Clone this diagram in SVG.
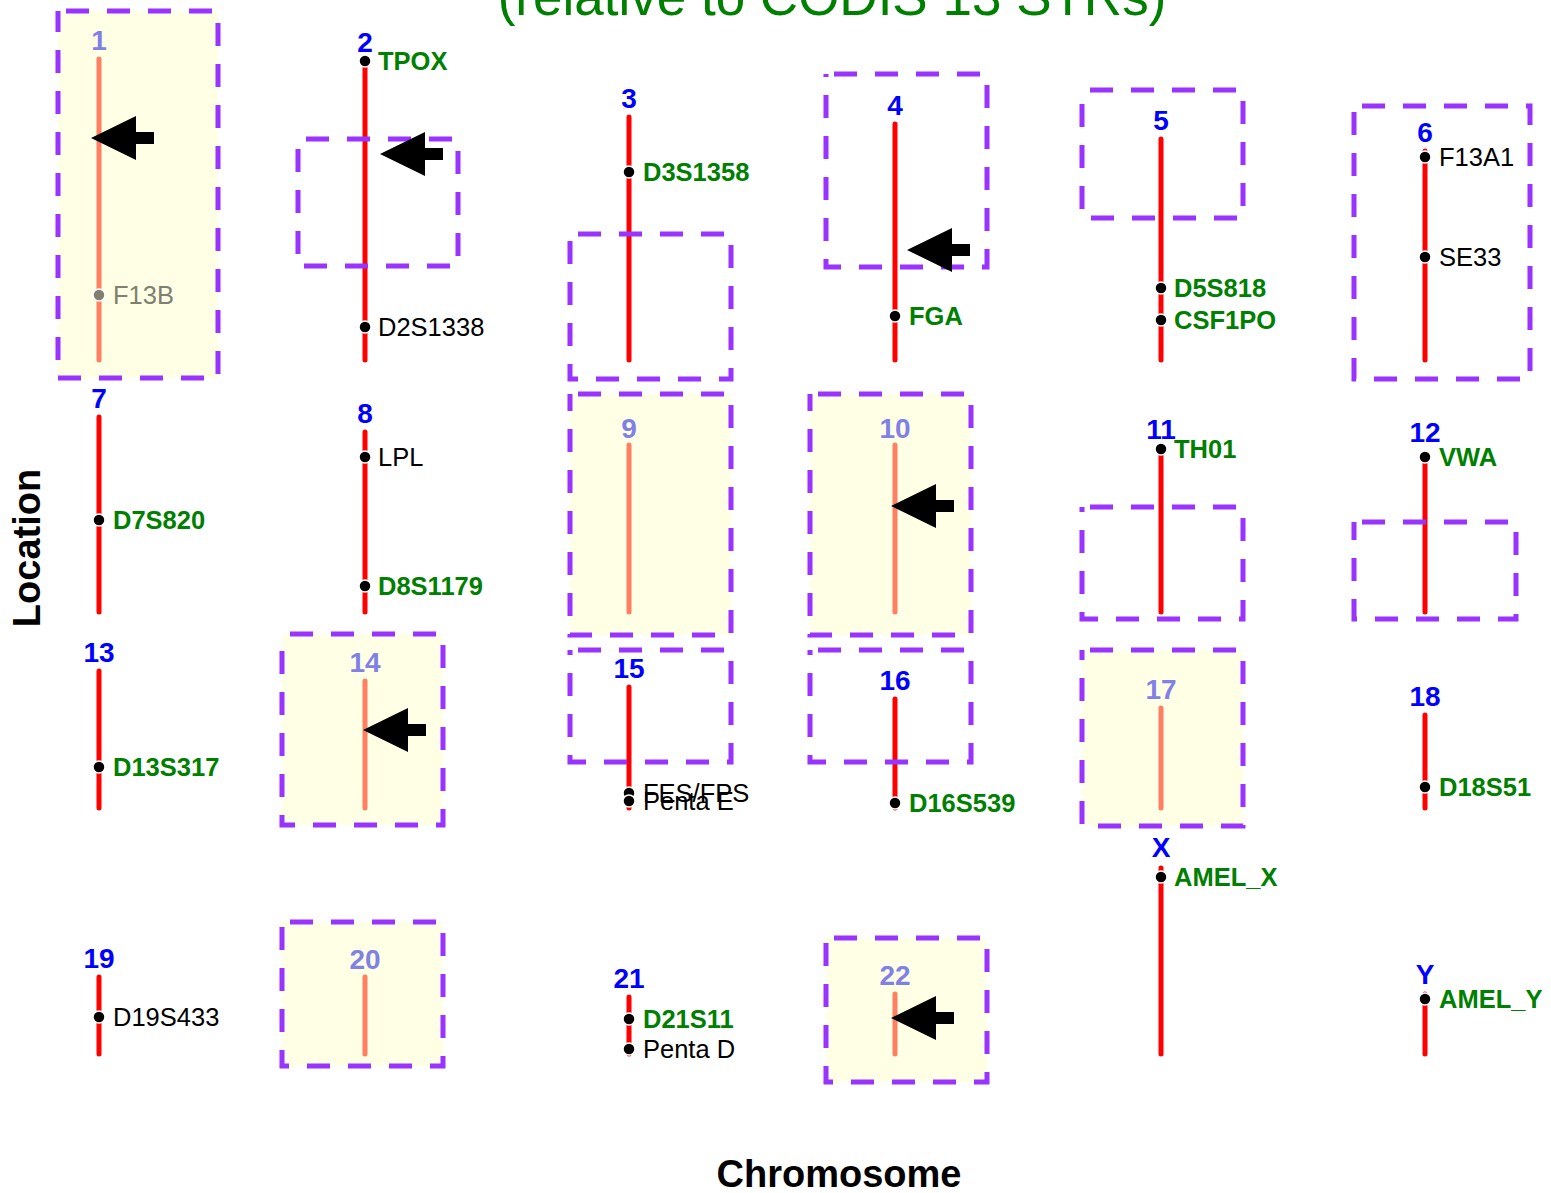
<svg xmlns="http://www.w3.org/2000/svg" width="1551" height="1193" viewBox="0 0 1551 1193">
<style>
.chr{stroke:#ff0000;stroke-width:5;stroke-linecap:round;fill:none}
.chrf{stroke:#ff7f62;stroke-width:5;stroke-linecap:round;fill:none}
.dot{fill:#000;stroke:#fff;stroke-width:1.5}
.dotf{fill:#808070;stroke:#fff;stroke-width:1.5}
.num{font-family:"Liberation Sans",Arial,sans-serif;font-weight:bold;font-size:28px;fill:#0000ff;text-anchor:middle}
.numf{font-family:"Liberation Sans",Arial,sans-serif;font-weight:bold;font-size:28px;fill:#8080e6;text-anchor:middle}
.mg{font-family:"Liberation Sans",Arial,sans-serif;font-weight:bold;font-size:25.5px;fill:#008000}
.mb{font-family:"Liberation Sans",Arial,sans-serif;font-size:25.5px;fill:#000}
.mf{font-family:"Liberation Sans",Arial,sans-serif;font-size:25.5px;fill:#808070}
.hlfill{fill:#ffffe6;stroke:none}
.hl{fill:none;stroke:#9933ff;stroke-width:5;stroke-dasharray:23 18;stroke-dashoffset:33}
.arrow{fill:#000}
.axis{font-family:"Liberation Sans",Arial,sans-serif;font-weight:bold;font-size:38px;fill:#000;text-anchor:middle}
.title{font-family:"Liberation Sans",Arial,sans-serif;font-size:53px;fill:#008000;text-anchor:middle}
</style>
<defs>
<path id="arr" d="M0,0 L45,-22 L45,-6 L63,-6 L63,6 L45,6 L45,22 Z"/>
</defs>
<rect width="1551" height="1193" fill="#fff"/>
<text class="title" x="832" y="15">(relative to CODIS 13 STRs)</text>
<text class="axis" x="839" y="1187">Chromosome</text>
<text class="axis" transform="translate(40,548) rotate(-90)">Location</text>

<g id="chr1">
<rect class="hlfill" x="58" y="11" width="160" height="367"/>
<line class="chrf" x1="99" y1="59" x2="99" y2="360"/>
<text class="numf" x="99" y="50">1</text>
<circle class="dotf" cx="99" cy="295" r="6"/><text class="mf" x="113" y="304">F13B</text>
<rect class="hl" x="58" y="11" width="160" height="367"/>
</g>
<g id="chr2">
<line class="chr" x1="365" y1="61" x2="365" y2="360"/>
<text class="num" x="365" y="52">2</text>
<circle class="dot" cx="365" cy="61" r="6"/><text class="mg" x="378" y="70">TPOX</text>
<circle class="dot" cx="365" cy="327" r="6"/><text class="mb" x="378" y="336">D2S1338</text>
<rect class="hl" x="298" y="139" width="160" height="127"/>
</g>
<g id="chr3">
<line class="chr" x1="629" y1="117" x2="629" y2="360"/>
<text class="num" x="629" y="108">3</text>
<circle class="dot" cx="629" cy="172" r="6"/><text class="mg" x="643" y="181">D3S1358</text>
<rect class="hl" x="570" y="234" width="161" height="145"/>
</g>
<g id="chr4">
<line class="chr" x1="895" y1="124" x2="895" y2="360"/>
<text class="num" x="895" y="115">4</text>
<circle class="dot" cx="895" cy="316" r="6"/><text class="mg" x="909" y="325">FGA</text>
<rect class="hl" x="826" y="74" width="161" height="193"/>
</g>
<g id="chr5">
<line class="chr" x1="1161" y1="139" x2="1161" y2="360"/>
<text class="num" x="1161" y="130">5</text>
<circle class="dot" cx="1161" cy="288" r="6"/><text class="mg" x="1174" y="297">D5S818</text>
<circle class="dot" cx="1161" cy="320" r="6"/><text class="mg" x="1174" y="329">CSF1PO</text>
<rect class="hl" x="1082" y="90" width="161" height="128"/>
</g>
<g id="chr6">
<line class="chr" x1="1425" y1="151" x2="1425" y2="360"/>
<text class="num" x="1425" y="142">6</text>
<circle class="dot" cx="1425" cy="157" r="6"/><text class="mb" x="1439" y="166">F13A1</text>
<circle class="dot" cx="1425" cy="257" r="6"/><text class="mb" x="1439" y="266">SE33</text>
<rect class="hl" x="1354" y="106" width="176" height="273"/>
</g>

<g id="chr7">
<line class="chr" x1="99" y1="417" x2="99" y2="612"/>
<text class="num" x="99" y="408">7</text>
<circle class="dot" cx="99" cy="520" r="6"/><text class="mg" x="113" y="529">D7S820</text>
</g>
<g id="chr8">
<line class="chr" x1="365" y1="432" x2="365" y2="612"/>
<text class="num" x="365" y="423">8</text>
<circle class="dot" cx="365" cy="457" r="6"/><text class="mb" x="378" y="466">LPL</text>
<circle class="dot" cx="365" cy="586" r="6"/><text class="mg" x="378" y="595">D8S1179</text>
</g>
<g id="chr9">
<rect class="hlfill" x="570" y="394" width="161" height="241"/>
<line class="chrf" x1="629" y1="445" x2="629" y2="612"/>
<text class="numf" x="629" y="438">9</text>
<rect class="hl" x="570" y="394" width="161" height="241"/>
</g>
<g id="chr10">
<rect class="hlfill" x="810" y="394" width="161" height="241"/>
<line class="chrf" x1="895" y1="445" x2="895" y2="612"/>
<text class="numf" x="895" y="438">10</text>
<rect class="hl" x="810" y="394" width="161" height="241"/>
</g>
<g id="chr11">
<line class="chr" x1="1161" y1="449" x2="1161" y2="612"/>
<text class="num" x="1161" y="439">11</text>
<circle class="dot" cx="1161" cy="449" r="6"/><text class="mg" x="1174" y="458">TH01</text>
<rect class="hl" x="1082" y="507" width="161" height="112"/>
</g>
<g id="chr12">
<line class="chr" x1="1425" y1="457" x2="1425" y2="612"/>
<text class="num" x="1425" y="442">12</text>
<circle class="dot" cx="1425" cy="457" r="6"/><text class="mg" x="1439" y="466">VWA</text>
<rect class="hl" x="1354" y="522" width="162" height="97"/>
</g>

<g id="chr13">
<line class="chr" x1="99" y1="671" x2="99" y2="808"/>
<text class="num" x="99" y="662">13</text>
<circle class="dot" cx="99" cy="767" r="6"/><text class="mg" x="113" y="776">D13S317</text>
</g>
<g id="chr14">
<rect class="hlfill" x="282" y="634" width="161" height="191"/>
<line class="chrf" x1="365" y1="681" x2="365" y2="808"/>
<text class="numf" x="365" y="672">14</text>
<rect class="hl" x="282" y="634" width="161" height="191"/>
</g>
<g id="chr15">
<line class="chr" x1="629" y1="687" x2="629" y2="808"/>
<text class="num" x="629" y="678">15</text>
<circle class="dot" cx="629" cy="793" r="6"/><text class="mb" x="643" y="802">FES/FPS</text>
<circle class="dot" cx="629" cy="801" r="6"/><text class="mb" x="643" y="810">Penta E</text>
<rect class="hl" x="570" y="650" width="161" height="112"/>
</g>
<g id="chr16">
<line class="chr" x1="895" y1="699" x2="895" y2="808"/>
<text class="num" x="895" y="690">16</text>
<circle class="dot" cx="895" cy="803" r="6"/><text class="mg" x="909" y="812">D16S539</text>
<rect class="hl" x="810" y="650" width="161" height="112"/>
</g>
<g id="chr17">
<rect class="hlfill" x="1082" y="650" width="161" height="176"/>
<line class="chrf" x1="1161" y1="708" x2="1161" y2="808"/>
<text class="numf" x="1161" y="699">17</text>
<rect class="hl" x="1082" y="650" width="161" height="176"/>
</g>
<g id="chr18">
<line class="chr" x1="1425" y1="715" x2="1425" y2="808"/>
<text class="num" x="1425" y="706">18</text>
<circle class="dot" cx="1425" cy="787" r="6"/><text class="mg" x="1439" y="796">D18S51</text>
</g>

<g id="chr19">
<line class="chr" x1="99" y1="977" x2="99" y2="1054"/>
<text class="num" x="99" y="968">19</text>
<circle class="dot" cx="99" cy="1017" r="6"/><text class="mb" x="113" y="1026">D19S433</text>
</g>
<g id="chr20">
<rect class="hlfill" x="282" y="922" width="161" height="144"/>
<line class="chrf" x1="365" y1="977" x2="365" y2="1054"/>
<text class="numf" x="365" y="969">20</text>
<rect class="hl" x="282" y="922" width="161" height="144"/>
</g>
<g id="chr21">
<line class="chr" x1="629" y1="997" x2="629" y2="1054"/>
<text class="num" x="629" y="988">21</text>
<circle class="dot" cx="629" cy="1019" r="6"/><text class="mg" x="643" y="1028">D21S11</text>
<circle class="dot" cx="629" cy="1049" r="6"/><text class="mb" x="643" y="1058">Penta D</text>
</g>
<g id="chr22">
<rect class="hlfill" x="826" y="938" width="161" height="144"/>
<line class="chrf" x1="895" y1="994" x2="895" y2="1054"/>
<text class="numf" x="895" y="985">22</text>
<rect class="hl" x="826" y="938" width="161" height="144"/>
</g>
<g id="chrX">
<line class="chr" x1="1161" y1="868" x2="1161" y2="1054"/>
<text class="num" x="1161" y="857">X</text>
<circle class="dot" cx="1161" cy="877" r="6"/><text class="mg" x="1174" y="886">AMEL_X</text>
</g>
<g id="chrY">
<line class="chr" x1="1425" y1="994" x2="1425" y2="1054"/>
<text class="num" x="1425" y="984">Y</text>
<circle class="dot" cx="1425" cy="999" r="6"/><text class="mg" x="1439" y="1008">AMEL_Y</text>
</g>

<g id="connectors">
<use href="#arr" class="arrow" x="91" y="138"/>
<use href="#arr" class="arrow" x="380" y="154"/>
<use href="#arr" class="arrow" x="907" y="250"/>
<use href="#arr" class="arrow" x="891" y="506"/>
<use href="#arr" class="arrow" x="363" y="730"/>
<use href="#arr" class="arrow" x="891" y="1018"/>
</g>
</svg>
